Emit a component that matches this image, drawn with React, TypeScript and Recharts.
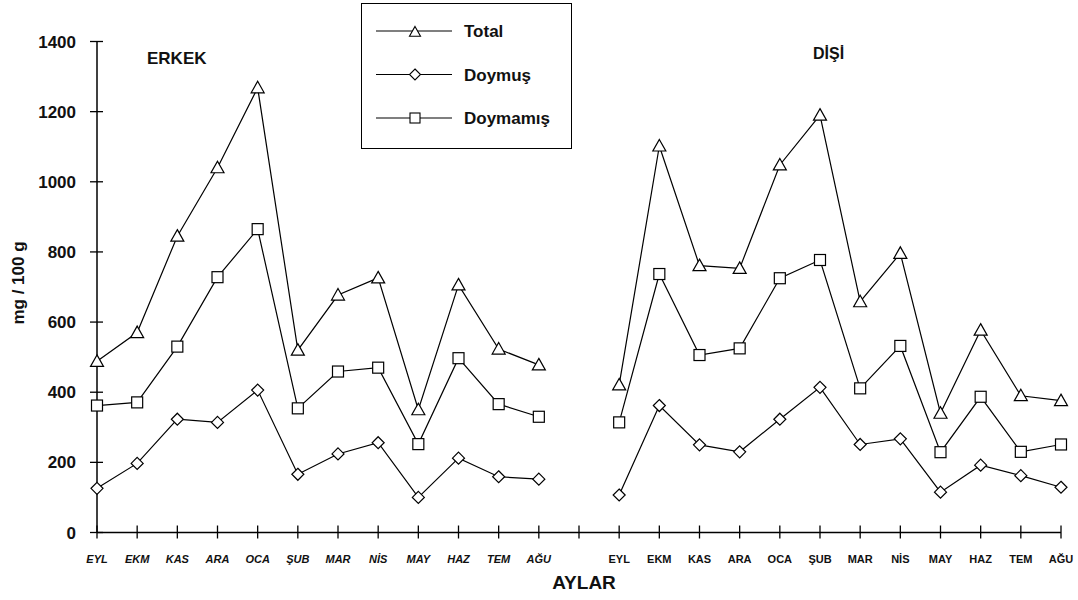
import React from 'react';
import { LineChart, Line, XAxis, YAxis, Legend } from 'recharts';

const FONT = "Arial, 'Liberation Sans', Helvetica, sans-serif";

const months = ['EYL', 'EKM', 'KAS', 'ARA', 'OCA', 'ŞUB', 'MAR', 'NİS', 'MAY', 'HAZ', 'TEM', 'AĞU'];

// ERKEK (male)
const erkekTotal = [488, 570, 845, 1040, 1268, 520, 677, 726, 350, 706, 523, 478];
const erkekDoymus = [126, 197, 323, 314, 406, 166, 224, 256, 100, 212, 159, 152];
const erkekDoymamis = [362, 371, 530, 728, 865, 354, 459, 470, 252, 497, 366, 330];

// DİŞİ (female)
const disiTotal = [421, 1102, 761, 753, 1048, 1190, 658, 796, 340, 577, 390, 376];
const disiDoymus = [107, 362, 250, 230, 323, 414, 251, 267, 115, 192, 162, 129];
const disiDoymamis = [314, 737, 506, 525, 725, 777, 411, 532, 229, 387, 230, 251];

const yTicks = [0, 200, 400, 600, 800, 1000, 1200, 1400];

type Row = {
  id: string;
  label: string;
  italic: boolean;
  total: number | null;
  doymus: number | null;
  doymamis: number | null;
};

const data: Row[] = [
  ...months.map((m, i) => ({
    id: 'E' + i,
    label: m,
    italic: true,
    total: erkekTotal[i],
    doymus: erkekDoymus[i],
    doymamis: erkekDoymamis[i],
  })),
  { id: 'gap', label: '', italic: false, total: null, doymus: null, doymamis: null },
  ...months.map((m, i) => ({
    id: 'D' + i,
    label: m,
    italic: false,
    total: disiTotal[i],
    doymus: disiDoymus[i],
    doymamis: disiDoymamis[i],
  })),
];

const triPath = (cx: number, cy: number, s = 1) =>
  `M${cx},${cy - 6.5 * s} L${cx + 6.5 * s},${cy + 5 * s} L${cx - 6.5 * s},${cy + 5 * s} Z`;

const TriangleDot = (props: any) => {
  const { cx, cy } = props;
  if (cx == null || cy == null) return <g />;
  return <path d={triPath(cx, cy)} fill="#fff" stroke="#000" strokeWidth={1.2} />;
};

const DiamondDot = (props: any) => {
  const { cx, cy } = props;
  if (cx == null || cy == null) return <g />;
  const r = 6;
  return (
    <path
      d={`M${cx},${cy - r} L${cx + r},${cy} L${cx},${cy + r} L${cx - r},${cy} Z`}
      fill="#fff"
      stroke="#000"
      strokeWidth={1.2}
    />
  );
};

const SquareDot = (props: any) => {
  const { cx, cy } = props;
  if (cx == null || cy == null) return <g />;
  return <rect x={cx - 5.5} y={cy - 5.5} width={11} height={11} fill="#fff" stroke="#000" strokeWidth={1.2} />;
};

const XTick = (props: any) => {
  const { x, y, payload } = props;
  const row = data.find((d) => d.id === payload.value);
  return (
    <g>
      <line x1={x} x2={x} y1={y - 7} y2={y + 6} stroke="#000" strokeWidth={1.3} />
      {row && row.label ? (
        <text
          x={x}
          y={y + 30}
          textAnchor="middle"
          fontSize={11}
          fontWeight="bold"
          fontStyle={row.italic ? 'italic' : 'normal'}
          fontFamily={FONT}
          fill="#111"
        >
          {row.label}
        </text>
      ) : null}
    </g>
  );
};

const YTick = (props: any) => {
  const { x, y, payload } = props;
  return (
    <g>
      <line x1={x - 7} x2={x + 6} y1={y} y2={y} stroke="#000" strokeWidth={1.3} />
      <text
        x={x - 21}
        y={y}
        dy="0.36em"
        textAnchor="end"
        fontSize={17}
        fontWeight="bold"
        fontFamily={FONT}
        fill="#111"
      >
        {payload.value}
      </text>
    </g>
  );
};

const legendItems = [
  { name: 'Total', kind: 'tri' },
  { name: 'Doymuş', kind: 'dia' },
  { name: 'Doymamış', kind: 'sq' },
];

const LegendBox = () => (
  <div
    style={{
      width: 211,
      height: 146,
      border: '1.5px solid #000',
      boxSizing: 'border-box',
      background: '#fff',
    }}
  >
    <svg width={208} height={143}>
      {legendItems.map((it, i) => {
        const cy = 27 + i * 43.5;
        const cx = 53;
        return (
          <g key={it.name}>
            <line x1={14} x2={90} y1={cy} y2={cy} stroke="#000" strokeWidth={1.1} />
            {it.kind === 'tri' && (
              <path d={triPath(cx, cy + 1, 0.85)} fill="#fff" stroke="#000" strokeWidth={1.1} />
            )}
            {it.kind === 'dia' && (
              <path
                d={`M${cx},${cy - 5.5} L${cx + 5.5},${cy} L${cx},${cy + 5.5} L${cx - 5.5},${cy} Z`}
                fill="#fff"
                stroke="#000"
                strokeWidth={1.1}
              />
            )}
            {it.kind === 'sq' && (
              <rect x={cx - 5} y={cy - 5} width={10} height={10} fill="#fff" stroke="#000" strokeWidth={1.1} />
            )}
            <text
              x={102}
              y={cy}
              dy="0.36em"
              fontSize={17}
              fontWeight="bold"
              fontFamily={FONT}
              fill="#111"
            >
              {it.name}
            </text>
          </g>
        );
      })}
    </svg>
  </div>
);

export default function App() {
  return (
    <div
      style={{
        position: 'absolute',
        left: 0,
        top: 0,
        width: 1078,
        height: 600,
        background: '#fff',
        fontFamily: FONT,
      }}
    >
      <LineChart
        width={1078}
        height={600}
        data={data}
        margin={{ top: 41.5, right: 17, left: 37, bottom: 37.5 }}
      >
        <XAxis
          dataKey="id"
          interval={0}
          height={30}
          tickSize={0}
          tickMargin={0}
          tickLine={false}
          tick={<XTick />}
          axisLine={{ stroke: '#000', strokeWidth: 1.5 }}
        />
        <YAxis
          type="number"
          domain={[0, 1400]}
          ticks={yTicks}
          width={60}
          tickSize={0}
          tickMargin={0}
          tickLine={false}
          tick={<YTick />}
          axisLine={{ stroke: '#000', strokeWidth: 1.5 }}
        />
        <Legend
          layout="vertical"
          align="center"
          verticalAlign="middle"
          wrapperStyle={{ left: 361, top: 3, width: 211, height: 146 }}
          content={() => <LegendBox />}
        />
        <Line
          dataKey="total"
          name="Total"
          stroke="#000"
          strokeWidth={1.2}
          dot={<TriangleDot />}
          activeDot={false}
          connectNulls={false}
          isAnimationActive={false}
        />
        <Line
          dataKey="doymamis"
          name="Doymamış"
          stroke="#000"
          strokeWidth={1.2}
          dot={<SquareDot />}
          activeDot={false}
          connectNulls={false}
          isAnimationActive={false}
        />
        <Line
          dataKey="doymus"
          name="Doymuş"
          stroke="#000"
          strokeWidth={1.2}
          dot={<DiamondDot />}
          activeDot={false}
          connectNulls={false}
          isAnimationActive={false}
        />
      </LineChart>
      <svg
        width={1078}
        height={600}
        style={{ position: 'absolute', left: 0, top: 0, pointerEvents: 'none' }}
      >
        <text x={147} y={58} dy="0.36em" fontSize={17} fontWeight="bold" fontFamily={FONT} fill="#111">
          ERKEK
        </text>
        <text x={813} y={53} dy="0.36em" fontSize={16} fontWeight="bold" fontFamily={FONT} fill="#111">
          DİŞİ
        </text>
        <text x={584} y={582} dy="0.36em" textAnchor="middle" fontSize={19} fontWeight="bold" fontFamily={FONT} fill="#111">
          AYLAR
        </text>
        <text
          x={18}
          y={283}
          dy="0.36em"
          textAnchor="middle"
          fontSize={17}
          fontWeight="bold"
          fontFamily={FONT}
          fill="#111"
          transform="rotate(-90 18 283)"
        >
          mg / 100 g
        </text>
      </svg>
    </div>
  );
}
